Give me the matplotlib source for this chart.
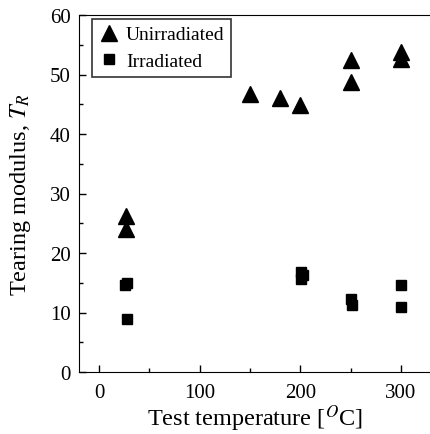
import matplotlib
matplotlib.use('Agg')
import matplotlib.pyplot as plt
from matplotlib.ticker import MultipleLocator

plt.rcParams['font.family'] = ['Liberation Serif', 'DejaVu Serif']
plt.rcParams['mathtext.fontset'] = 'stix'

# 未辐照数据 (triangles)
unirr_temp = [27, 27, 150, 180, 200, 250, 250, 300, 300]
unirr_tr = [26.3, 24.0, 46.8, 46.0, 44.9, 52.5, 48.8, 53.7, 52.6]

# 辐照数据 (squares)
irr_temp = [26, 28, 28, 201, 203, 201, 250, 251, 300, 300]
irr_tr = [14.6, 15.0, 8.9, 16.8, 16.3, 15.6, 12.2, 11.3, 14.7, 10.9]

fig = plt.figure(figsize=(4.31, 4.35), dpi=100)
ax = fig.add_axes([79 / 431, 62 / 435, 352 / 431, 357 / 435])

ax.plot(unirr_temp, unirr_tr, linestyle='none', marker='^', markersize=11,
        color='black', label='Unirradiated')
ax.plot(irr_temp, irr_tr, linestyle='none', marker='s', markersize=7.5,
        color='black', label='Irradiated')

ax.set_xlim(-20, 330)
ax.set_ylim(0, 60)
ax.xaxis.set_major_locator(MultipleLocator(100))
ax.xaxis.set_minor_locator(MultipleLocator(50))
ax.yaxis.set_major_locator(MultipleLocator(10))
ax.yaxis.set_minor_locator(MultipleLocator(5))
ax.tick_params(which='both', direction='in', labelsize=15, width=1)
ax.tick_params(axis='x', pad=8)
ax.tick_params(axis='y', pad=6)
ax.tick_params(which='major', length=5)
ax.tick_params(which='minor', length=3)
ax.spines['right'].set_visible(False)

ax.set_xlabel('Test temperature [$^{O}$C]', fontsize=17.5, labelpad=0)
ax.set_ylabel('Tearing modulus, $T_R$', fontsize=17.5, labelpad=12)

leg = ax.legend(loc='upper left', bbox_to_anchor=(13 / 352, 1 - 4 / 357),
                borderaxespad=0, fontsize=14, frameon=True, fancybox=False,
                edgecolor='black', handletextpad=0.4, handlelength=1.0,
                borderpad=0.35, labelspacing=0.45)
leg.get_frame().set_linewidth(1.2)

fig.savefig('out.png', dpi=100)
